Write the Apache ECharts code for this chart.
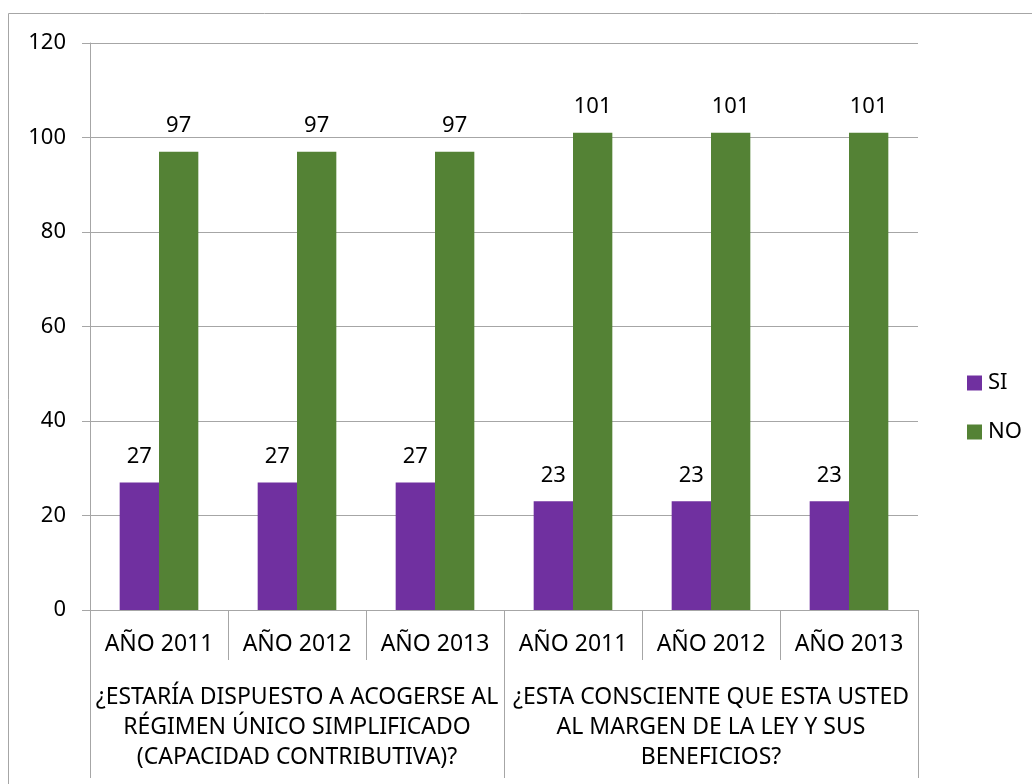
<!DOCTYPE html>
<html>
<head>
<meta charset="utf-8">
<script src="https://cdn.jsdelivr.net/npm/echarts@6/dist/echarts.min.js"></script>
<style>
    html, body { margin: 0; padding: 0; background: #fff; }
    #chart { width: 1032px; height: 784px; }
</style>
</head>
<body>
<div id="chart"></div>
<script>
var years = ['AÑO 2011', 'AÑO 2012', 'AÑO 2013', 'AÑO 2011', 'AÑO 2012', 'AÑO 2013'];
var questions = [
    '¿ESTARÍA DISPUESTO A ACOGERSE AL\nRÉGIMEN ÚNICO SIMPLIFICADO\n(CAPACIDAD CONTRIBUTIVA)?',
    '¿ESTA CONSCIENTE QUE ESTA USTED\nAL MARGEN DE LA LEY Y SUS\nBENEFICIOS?'
];
var siValues = [27, 27, 27, 23, 23, 23];
var noValues = [97, 97, 97, 101, 101, 101];
var yTicks = { min: 0, max: 120, interval: 20 };

var font = 'Noto Sans';
var gray = '#a6a6a6';

var chart = echarts.init(document.getElementById('chart'));

// etiqueta de valor encima de cada barra
var valueLabel = {
    show: true,
    position: 'top',
    distance: 15,
    color: '#000',
    fontFamily: font,
    fontSize: 22
};

var options = {
    animation: false,
    textStyle: { fontFamily: font },
    graphic: [{
        type: 'rect',
        shape: { x: 8.5, y: 13.5, width: 1100, height: 900 },
        style: { fill: 'none', stroke: gray, lineWidth: 1 },
        silent: true,
        z: -1
    }],
    grid: { left: 90, top: 43, width: 828, height: 567 },
    legend: {
        data: ['SI', 'NO'],
        orient: 'vertical',
        left: 962,
        top: 367,
        itemWidth: 15,
        itemHeight: 15,
        itemGap: 27,
        icon: 'rect',
        textStyle: { fontFamily: font, fontSize: 22, lineHeight: 22, color: '#000', padding: [0, 0, 0, 1] }
    },
    xAxis: [
        {
            type: 'category',
            data: years,
            position: 'bottom',
            axisLine: { show: true, lineStyle: { color: gray } },
            axisTick: { show: true, interval: 0, length: 50, lineStyle: { color: gray } },
            axisLabel: {
                interval: 0,
                margin: 23,
                color: '#000',
                fontFamily: font,
                fontSize: 23
            }
        },
        {
            type: 'category',
            data: questions,
            position: 'bottom',
            axisLine: { show: false },
            axisTick: { show: true, interval: 0, length: 168, lineStyle: { color: gray } },
            axisLabel: {
                interval: 0,
                margin: 72,
                color: '#000',
                fontFamily: font,
                fontSize: 23,
                lineHeight: 30,
                align: 'center'
            }
        }
    ],
    yAxis: {
        type: 'value',
        min: yTicks.min,
        max: yTicks.max,
        interval: yTicks.interval,
        axisLine: { show: true, lineStyle: { color: gray } },
        axisTick: { show: true, length: 8, lineStyle: { color: gray } },
        splitLine: { show: true, lineStyle: { color: gray } },
        axisLabel: {
            margin: 24,
            color: '#000',
            fontFamily: font,
            fontSize: 22
        }
    },
    series: [
        {
            name: 'SI',
            type: 'bar',
            data: siValues,
            barGap: 0,
            barCategoryGap: '43%',
            itemStyle: { color: '#7030a0' },
            label: valueLabel
        },
        {
            name: 'NO',
            type: 'bar',
            data: noValues,
            barGap: 0,
            barCategoryGap: '43%',
            itemStyle: { color: '#548235' },
            label: valueLabel
        }
    ]
};

chart.setOption(options);
</script>
</body>
</html>
